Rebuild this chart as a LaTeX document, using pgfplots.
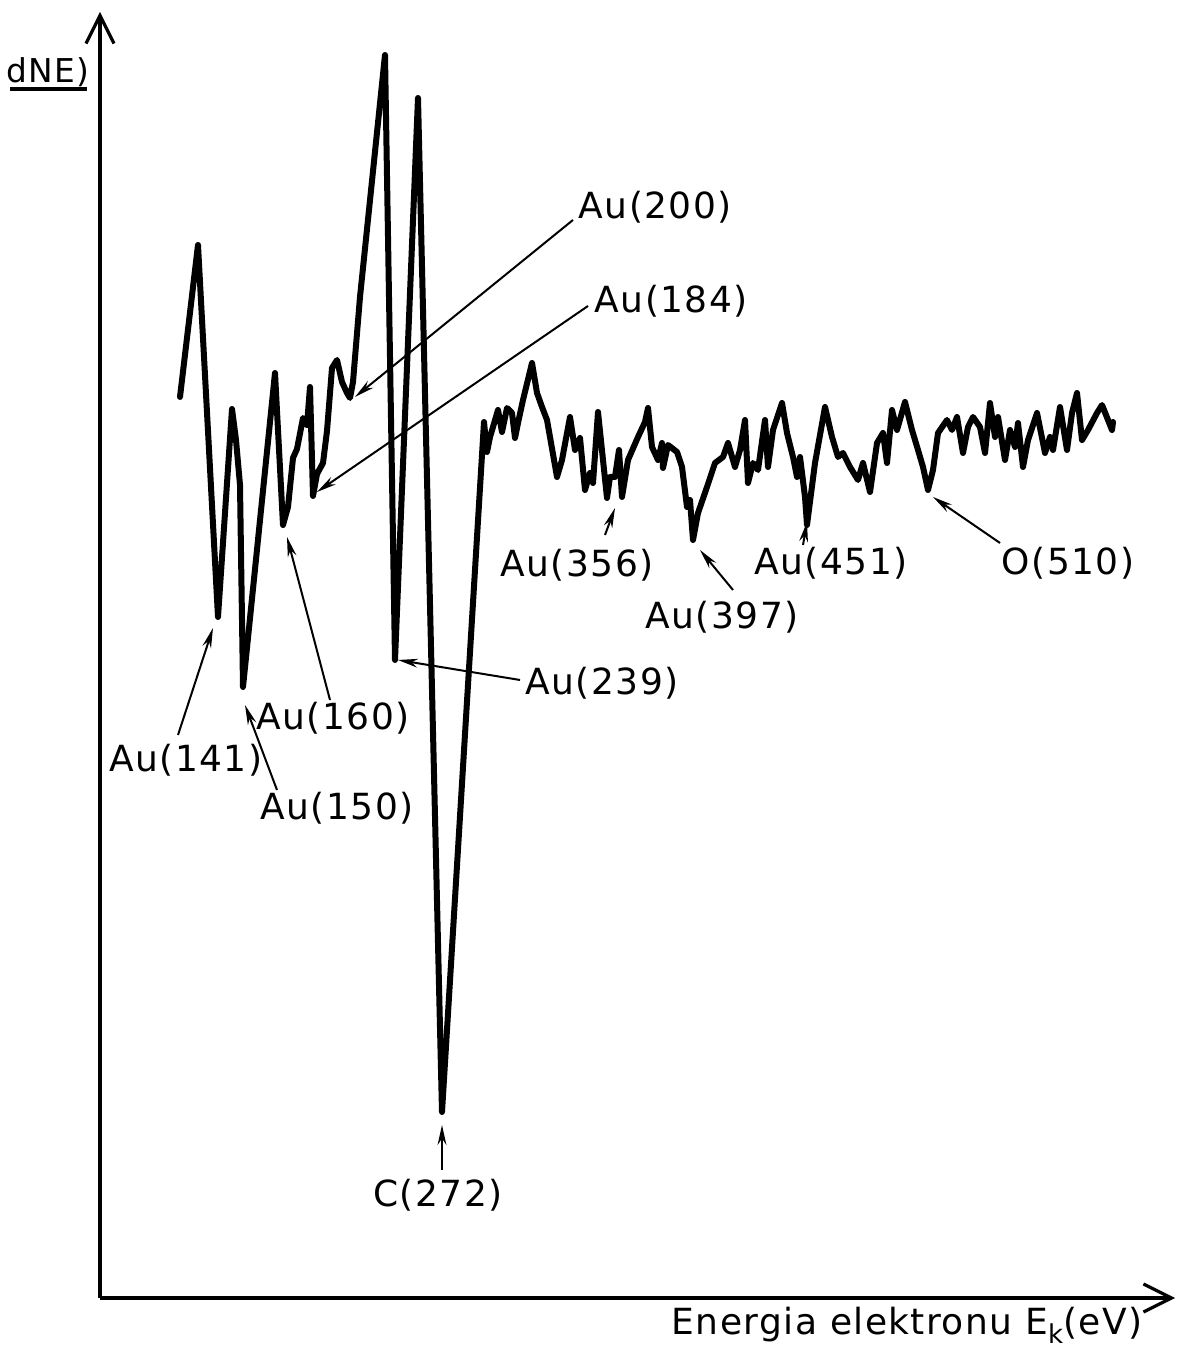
\documentclass[border=0pt]{standalone}
\usepackage{fontspec}
\setmainfont{DejaVu Sans}[LetterSpace=4]
\usepackage{pgfplots}
\pgfplotsset{compat=1.18}
\usetikzlibrary{arrows.meta}
\begin{document}
\begin{tikzpicture}[
  ann/.style={line width=0.5pt,-{Stealth[length=5pt,width=2.2pt]}},
  lab/.style={font=\fontsize{9}{10}\selectfont,inner sep=0pt}]
\begin{axis}[
  x=0.25pt, y=0.25pt,
  xmin=100, xmax=1175, ymin=-1298, ymax=-12,
  axis lines=left,
  axis line style={line width=0.8pt,-{Straight Barb[length=7pt,width=7pt,line width=0.8pt]}},
  ticks=none,
  clip=false,
]
\addplot[black, line width=1.5pt, line join=round, line cap=round] table[y expr=-\thisrow{py}] {
x py
180 397
198 245
218 617
232 409
236 440
240 485
243 687
275 373
283 525
288 507
293 458
297 449
303 418
307 425
310 387
313 496
317 474
323 463
327 431
332 368
337 360
342 382
347 393
350 398
353 382
360 297
385 55
395 660
418 98
442 1112
482 455
484 422
487 452
490 437
493 427
498 410
502 432
507 408
512 413
515 438
518 423
523 400
532 363
537 393
542 407
547 420
557 477
562 460
570 417
575 450
580 438
585 490
590 473
593 483
598 412
603 460
607 498
610 477
615 477
619 450
622 497
628 460
638 437
645 422
648 408
652 447
658 460
662 443
663 468
668 445
677 452
682 467
687 507
690 500
693 540
698 513
707 487
715 463
723 457
728 443
735 467
740 450
745 420
748 483
753 463
758 470
765 420
768 467
773 430
782 403
787 433
793 457
797 477
800 457
805 497
807 525
815 463
825 407
832 437
838 457
843 453
850 467
858 480
863 463
870 492
877 443
883 433
887 463
892 410
897 430
905 402
912 430
918 450
923 467
928 490
933 470
938 433
947 420
952 430
957 417
963 453
968 427
973 417
980 427
985 453
990 403
995 437
998 417
1005 460
1010 430
1015 447
1018 423
1023 467
1028 440
1037 413
1045 453
1050 437
1053 450
1060 407
1067 450
1072 413
1077 393
1082 440
1088 430
1097 413
1102 405
1108 420
1112 430
1113 422
};
% annotations
\draw[ann] (axis cs:573,-220) -- (axis cs:355,-397);
\node[lab,anchor=west] at (axis cs:578,-207) {Au(200)};
\draw[ann] (axis cs:588,-306) -- (axis cs:317,-492);
\node[lab,anchor=west] at (axis cs:594,-301) {Au(184)};
\draw[ann] (axis cs:330,-700) -- (axis cs:287,-537);
\node[lab] at (axis cs:333,-718) {Au(160)};
\draw[ann] (axis cs:178,-735) -- (axis cs:213,-628);
\node[lab] at (axis cs:186,-760) {Au(141)};
\draw[ann] (axis cs:277,-790) -- (axis cs:245,-705);
\node[lab] at (axis cs:337,-808) {Au(150)};
\draw[ann] (axis cs:520,-680) -- (axis cs:398,-660);
\node[lab] at (axis cs:602,-683) {Au(239)};
\draw[ann] (axis cs:442,-1170) -- (axis cs:442,-1125);
\node[lab] at (axis cs:438,-1195) {C(272)};
\draw[ann] (axis cs:605,-535) -- (axis cs:615,-508);
\node[lab] at (axis cs:577,-565) {Au(356)};
\draw[ann] (axis cs:733,-590) -- (axis cs:700,-550);
\node[lab] at (axis cs:722,-617) {Au(397)};
\draw[ann] (axis cs:803,-545) -- (axis cs:807,-522);
\node[lab] at (axis cs:831,-563) {Au(451)};
\draw[ann] (axis cs:1000,-543) -- (axis cs:933,-497);
\node[lab] at (axis cs:1068,-563) {O(510)};
% axis labels
\node[inner sep=0pt,font=\fontsize{8.2}{9}\selectfont] at (axis cs:48,-72) {dNE)};
\draw[line width=0.8pt] (axis cs:10,-89) -- (axis cs:87,-89);
\node[lab] at (axis cs:907,-1325) {Energia elektronu E\raisebox{-0.45ex}{\fontsize{6.5}{7}\selectfont k}(eV)};
\coordinate (TL) at (axis cs:0,0);
\coordinate (BR) at (axis cs:1178,-1348);
\end{axis}
\path (TL) rectangle (BR);
\end{tikzpicture}
\end{document}
